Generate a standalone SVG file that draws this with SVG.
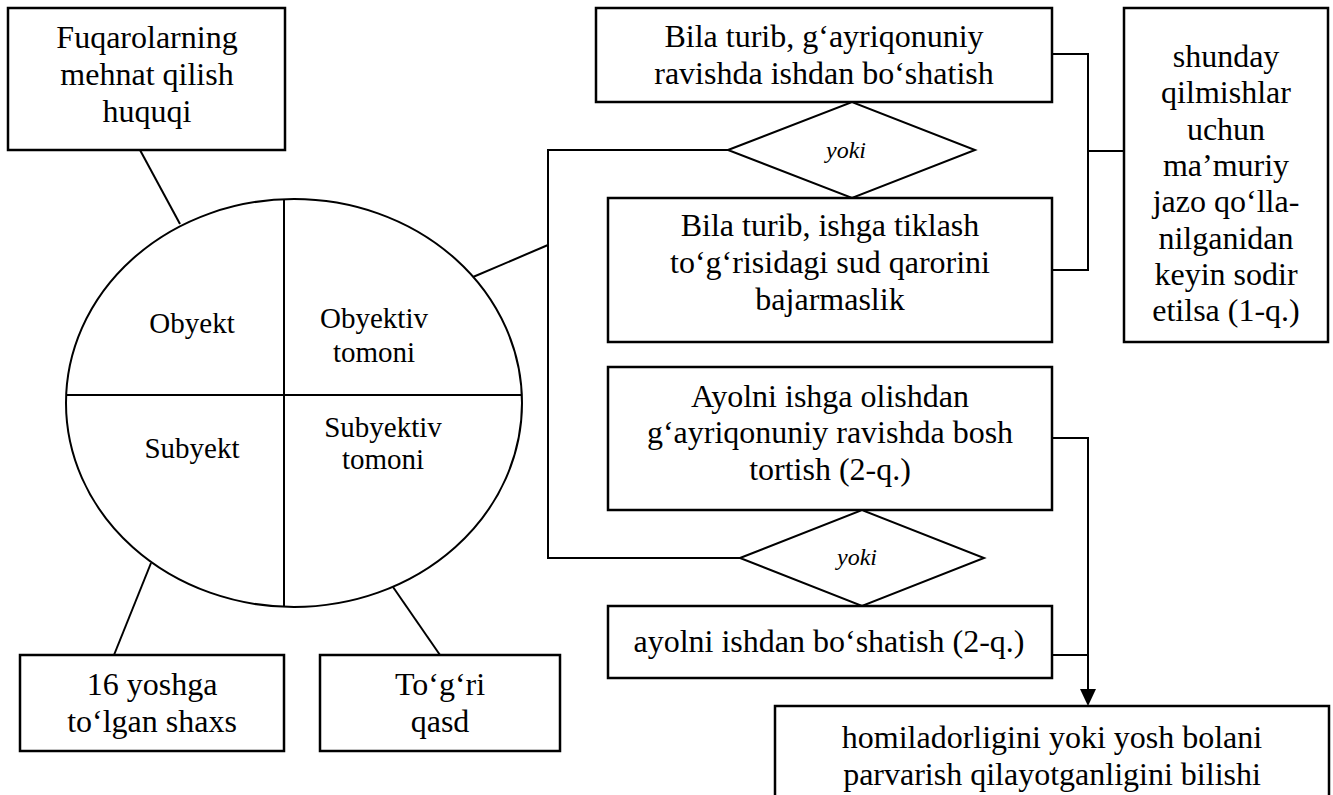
<svg xmlns="http://www.w3.org/2000/svg" width="1333" height="795" viewBox="0 0 1333 795">
<defs>
<style>
.box{fill:#fff;stroke:#000;stroke-width:2.5}
.ln{fill:none;stroke:#000;stroke-width:2}
.t{font-family:"Liberation Serif","Times New Roman",serif;font-size:32px;text-anchor:middle;fill:#000}
.s{font-family:"Liberation Serif","Times New Roman",serif;font-size:29px;text-anchor:middle;fill:#000}
.y{font-family:"Liberation Serif","Times New Roman",serif;font-size:24px;font-style:italic;text-anchor:middle;fill:#000}
</style>
</defs>
<rect width="1333" height="795" fill="#fff"/>
<g id="connectors">
<line class="ln" x1="140" y1="150" x2="180" y2="224"/>
<line class="ln" x1="473" y1="277" x2="548" y2="245"/>
<polyline class="ln" points="728,150 548,150 548,558 740,558"/>
<polyline class="ln" points="1052,54 1088,54 1088,270 1052,270"/>
<line class="ln" x1="1088" y1="151" x2="1124" y2="151"/>
<polyline class="ln" points="1052,438 1088,438 1088,692"/>
<path d="M1080,689 L1096,689 L1088,706 z" fill="#000"/>
<line class="ln" x1="1052" y1="655" x2="1088" y2="655"/>
<line class="ln" x1="114" y1="655" x2="151" y2="563"/>
<line class="ln" x1="440" y1="655" x2="393" y2="587"/>
</g>
<g id="n-object-right">
<rect class="box" x="8" y="8" width="277" height="142"/>
<text class="t" x="147" y="48">Fuqarolarning</text>
<text class="t" x="147" y="85">mehnat qilish</text>
<text class="t" x="147" y="122">huquqi</text>
</g>
<g id="n-ellipse">
<ellipse cx="294" cy="403" rx="228" ry="204" fill="#fff" stroke="#000" stroke-width="2"/>
<line class="ln" x1="284" y1="199" x2="284" y2="607"/>
<line class="ln" x1="66" y1="395" x2="522" y2="395"/>
<text class="s" x="192" y="333">Obyekt</text>
<text class="s" x="374" y="328">Obyektiv</text>
<text class="s" x="374" y="362">tomoni</text>
<text class="s" x="192" y="458">Subyekt</text>
<text class="s" x="383" y="437">Subyektiv</text>
<text class="s" x="383" y="469">tomoni</text>
</g>
<g id="n-bila1">
<rect class="box" x="596" y="8" width="456" height="94"/>
<text class="t" x="824" y="47">Bila turib, g‘ayriqonuniy</text>
<text class="t" x="824" y="84">ravishda ishdan bo‘shatish</text>
</g>
<g id="n-yoki1">
<polygon class="box" points="728,150 852,102 975,150 852,198" style="stroke-width:2"/>
<text class="y" x="846" y="158">yoki</text>
</g>
<g id="n-bila2">
<rect class="box" x="608" y="198" width="444" height="144"/>
<text class="t" x="830" y="236">Bila turib, ishga tiklash</text>
<text class="t" x="830" y="273">to‘g‘risidagi sud qarorini</text>
<text class="t" x="830" y="310">bajarmaslik</text>
</g>
<g id="n-shunday">
<rect class="box" x="1124" y="8" width="204" height="334"/>
<text class="t" x="1226" y="67">shunday</text>
<text class="t" x="1226" y="103">qilmishlar</text>
<text class="t" x="1226" y="140">uchun</text>
<text class="t" x="1226" y="176">ma’muriy</text>
<text class="t" x="1226" y="212">jazo qo‘lla-</text>
<text class="t" x="1226" y="249">nilganidan</text>
<text class="t" x="1226" y="285">keyin sodir</text>
<text class="t" x="1226" y="321">etilsa (1-q.)</text>
</g>
<g id="n-ayolni1">
<rect class="box" x="608" y="367" width="444" height="143"/>
<text class="t" x="830" y="407">Ayolni ishga olishdan</text>
<text class="t" x="830" y="443">g‘ayriqonuniy ravishda bosh</text>
<text class="t" x="830" y="480">tortish (2-q.)</text>
</g>
<g id="n-yoki2">
<polygon class="box" points="740,558 862,510 984,558 862,606" style="stroke-width:2"/>
<text class="y" x="857" y="565">yoki</text>
</g>
<g id="n-ayolni2">
<rect class="box" x="608" y="606" width="444" height="72"/>
<text class="t" x="829" y="652">ayolni ishdan bo‘shatish (2-q.)</text>
</g>
<g id="n-homila">
<rect class="box" x="775" y="706" width="554" height="100"/>
<text class="t" x="1052" y="748">homiladorligini yoki yosh bolani</text>
<text class="t" x="1052" y="785">parvarish qilayotganligini bilishi</text>
</g>
<g id="n-subject">
<rect class="box" x="20" y="655" width="264" height="96"/>
<text class="t" x="152" y="695">16 yoshga</text>
<text class="t" x="152" y="732">to‘lgan shaxs</text>
</g>
<g id="n-intent">
<rect class="box" x="320" y="655" width="240" height="96"/>
<text class="t" x="440" y="695">To‘g‘ri</text>
<text class="t" x="440" y="732">qasd</text>
</g>
</svg>
